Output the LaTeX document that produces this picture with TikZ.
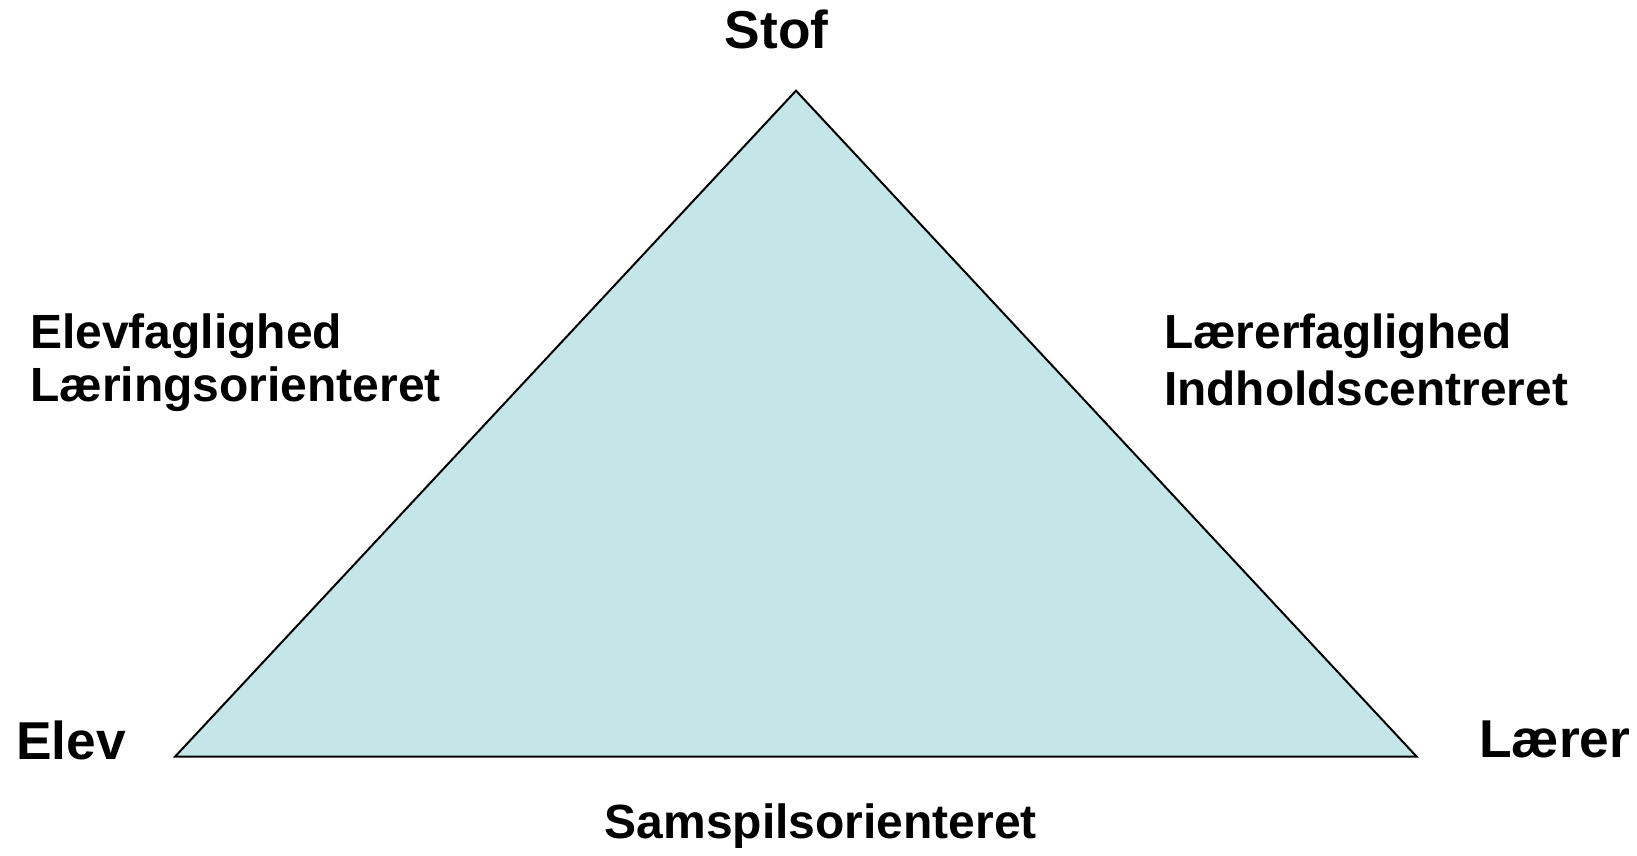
\documentclass[tikz,border=0pt]{standalone}
\usepackage{fontspec}
\setmainfont{Liberation Sans}
\definecolor{triblue}{HTML}{C4E6E8}
\begin{document}
\begin{tikzpicture}[x=1pt,y=1pt,
  big/.style={font=\fontsize{53.3}{60}\selectfont\bfseries, inner sep=0pt},
  smallL/.style={font=\fontsize{48}{52.3}\selectfont\bfseries, inner sep=0pt, align=left},
  smallR/.style={font=\fontsize{47.8}{56.5}\selectfont\bfseries, inner sep=0pt, align=left},
  tri/.style={fill=triblue, draw=black, line width=2pt, line join=miter}
]
\useasboundingbox (0,0) rectangle (1637,855);
\coordinate (top) at (796,764.3);
\coordinate (left) at (175,98.3);
\coordinate (right) at (1416.7,98.3);
\filldraw[tri] (left) -- (top) -- (right) -- cycle;
\node[big, anchor=base] (stof) at (776.5,806.7) {Stof};
\node[big, anchor=base west] (elev) at (16,96) {Elev};
\node[big, anchor=base west] (laerer) at (1479,97.3) {Lærer};
\node[smallL, anchor=north west] (elevfag) at (30,541) {Elevfaglighed\\Læringsorienteret};
\node[smallR, anchor=north west] (laererfag) at (1164,541) {Lærerfaglighed\\Indholdscentreret};
\node[smallL, anchor=base] (samspil) at (820.8,17) {Samspilsorienteret};
\end{tikzpicture}
\end{document}
